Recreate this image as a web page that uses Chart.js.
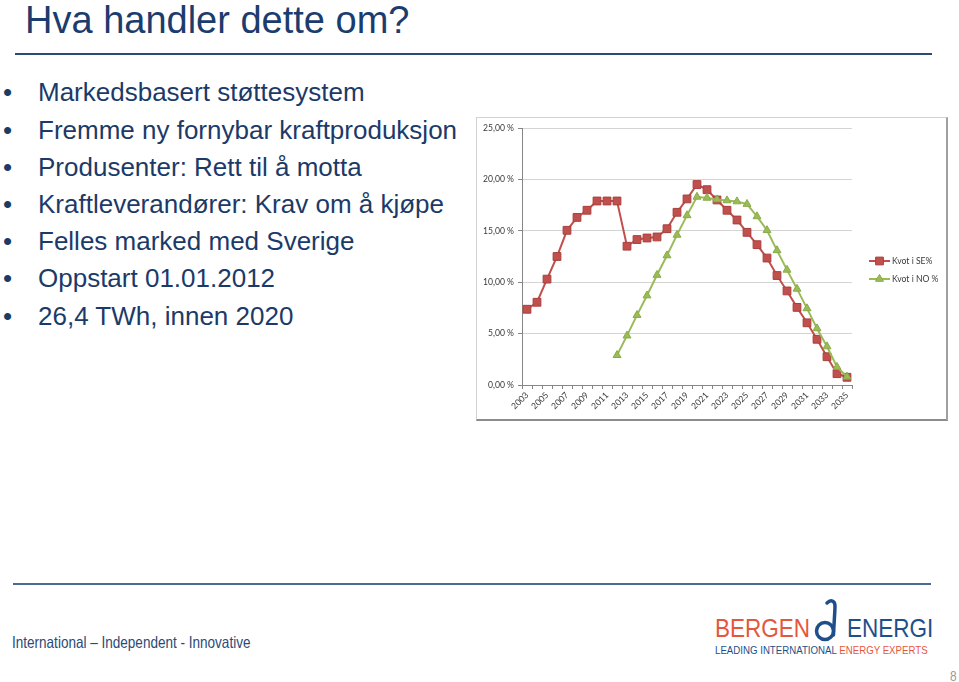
<!DOCTYPE html>
<html>
<head>
<meta charset="utf-8">
<script src="https://cdn.jsdelivr.net/npm/chart.js@4.4.1/dist/chart.umd.min.js"></script>
<style>
  html, body { margin: 0; padding: 0; background: #fff; }
  body { width: 959px; height: 682px; position: relative; overflow: hidden; font-family: "Liberation Sans", Arial, sans-serif; }
  .abs { position: absolute; white-space: nowrap; }
  #title { left: 25px; top: 1px; font-size: 38px; line-height: 38px; color: #1b3c6e; }
  .rule { position: absolute; background: #2c4a78; height: 2px; }
  #bullets { left: 0; top: 74.4px; font-size: 26px; line-height: 37.2px; color: #1c3a68; }
  #bullets div { position: relative; padding-left: 38px; }
  #bullets div::before { content: "\2022"; position: absolute; left: 3px; }
  #frame { left: 476px; top: 117px; width: 469px; height: 301px; border: 1px solid #d2d2d2; border-right: 2px solid #a0a0a0; border-bottom: 2px solid #8c8c8c; background: #fff; }
  #footer { left: 12px; top: 634px; font-size: 16.5px; line-height: 16.5px; color: #2b4a78; transform: scaleX(0.82); transform-origin: 0 0; }
  #page { left: 950px; top: 669px; font-size: 14px; line-height: 14px; color: #9a9a9a; transform: scaleX(0.85); transform-origin: 0 0; }
  .logo { font-size: 25px; line-height: 25px; top: 616px; transform: scaleX(0.9); transform-origin: 0 0; }
  #sub { left: 715px; top: 644.7px; font-size: 11px; line-height: 11px; color: #1f4f8a; transform: scaleX(0.88); transform-origin: 0 0; }
</style>
</head>
<body>
<div id="title" class="abs">Hva handler dette om?</div>
<div class="rule" style="left:15px; top:53px; width:917px;"></div>

<div id="bullets" class="abs">
  <div>Markedsbasert støttesystem</div>
  <div>Fremme ny fornybar kraftproduksjon</div>
  <div>Produsenter: Rett til å motta</div>
  <div>Kraftleverandører: Krav om å kjøpe</div>
  <div>Felles marked med Sverige</div>
  <div>Oppstart 01.01.2012</div>
  <div>26,4 TWh, innen 2020</div>
</div>

<div id="frame" class="abs">
  <canvas id="kvotChart" width="469" height="301"></canvas>
</div>

<div class="rule" style="left:13px; top:583px; width:918px; background:#4a6a95;"></div>
<div id="footer" class="abs">International – Independent - Innovative</div>

<div class="abs logo" style="left:715px; color:#e4573d;">BERGEN</div>
<svg class="abs" style="left:805px; top:595px;" width="44" height="48" viewBox="0 0 44 48">
  <circle cx="20" cy="36" r="8.5" fill="none" stroke="#1f4f8a" stroke-width="3.5"/>
  <path d="M 28.5 40 C 29 28, 30 16, 30 11 C 30 6, 26 4, 22 8" fill="none" stroke="#1f4f8a" stroke-width="3.5" stroke-linecap="round"/>
</svg>
<div class="abs logo" style="left:847px; color:#1f4f8a;">ENERGI</div>
<div id="sub" class="abs">LEADING INTERNATIONAL <span style="color:#e4573d;">ENERGY EXPERTS</span></div>

<div id="page" class="abs">8</div>

<script>
// Years on the category axis (every other one is labelled)
const years = ["2003", "2004", "2005", "2006", "2007", "2008", "2009", "2010", "2011", "2012",
               "2013", "2014", "2015", "2016", "2017", "2018", "2019", "2020", "2021", "2022",
               "2023", "2024", "2025", "2026", "2027", "2028", "2029", "2030", "2031", "2032",
               "2033", "2034", "2035"];

// Kvot i SE%
const kvotSE = [7.37, 8.05, 10.3, 12.5, 15.05, 16.3, 17.0, 17.9, 17.9, 17.9,
                13.5, 14.15, 14.3, 14.4, 15.2, 16.8, 18.1, 19.5, 19.0, 18.0,
                17.0, 16.05, 14.85, 13.65, 12.35, 10.65, 9.15, 7.55, 6.05, 4.45,
                2.75, 1.1, 0.75];

// Kvot i NO % - starts in 2012
const kvotNO = [null, null, null, null, null, null, null, null, null, 2.9,
                4.8, 6.8, 8.7, 10.7, 12.6, 14.6, 16.5, 18.3, 18.2, 18.05,
                17.95, 17.85, 17.6, 16.4, 15.05, 13.1, 11.2, 9.35, 7.45, 5.5,
                3.75, 1.75, 0.8];

const yMin = 0, yMax = 25, yStep = 5;

const tickFont = { family: 'Lato, "Liberation Sans", sans-serif', size: 8.6 };

// Excel-style legend on the right: line with marker, then the label
const sideLegend = {
    id: 'sideLegend',
    afterDraw(chart, args, opts) {
        const ctx = chart.ctx;
        ctx.save();
        chart.data.datasets.forEach((ds, i) => {
            const y = opts.top + i * opts.gap;
            const x0 = opts.left, x1 = opts.left + opts.lineLength;
            ctx.strokeStyle = ds.borderColor;
            ctx.lineWidth = ds.borderWidth;
            ctx.beginPath();
            ctx.moveTo(x0, y);
            ctx.lineTo(x1, y);
            ctx.stroke();

            const cx = (x0 + x1) / 2, r = ds.pointRadius;
            ctx.fillStyle = ds.pointBackgroundColor;
            ctx.strokeStyle = ds.pointBorderColor;
            ctx.lineWidth = 1;
            ctx.beginPath();
            if (ds.pointStyle === 'rect') {
                const s = Math.SQRT1_2 * r;
                ctx.rect(cx - s, y - s, 2 * s, 2 * s);
            } else {
                let rad = 0;
                ctx.moveTo(cx + Math.sin(rad) * r, y - Math.cos(rad) * r);
                rad += 2 * Math.PI / 3;
                ctx.lineTo(cx + Math.sin(rad) * r, y - Math.cos(rad) * r);
                rad += 2 * Math.PI / 3;
                ctx.lineTo(cx + Math.sin(rad) * r, y - Math.cos(rad) * r);
                ctx.closePath();
            }
            ctx.fill();
            ctx.stroke();

            ctx.fillStyle = '#3a3a3a';
            ctx.font = tickFont.size + 'px ' + tickFont.family;
            ctx.textBaseline = 'middle';
            ctx.textAlign = 'left';
            ctx.fillText(ds.label, x1 + 2, y);
        });
        ctx.restore();
    }
};

const ctx = document.getElementById('kvotChart').getContext('2d');

new Chart(ctx, {
    type: 'line',
    data: {
        labels: years,
        datasets: [
            {
                label: 'Kvot i SE%',
                data: kvotSE,
                borderColor: '#c0504d',
                borderWidth: 2,
                pointStyle: 'rect',
                pointRadius: 5.5,
                pointBackgroundColor: '#c0504d',
                pointBorderColor: '#a93f3c',
                pointBorderWidth: 1,
                tension: 0,
                order: 2
            },
            {
                label: 'Kvot i NO %',
                data: kvotNO,
                borderColor: '#9bbb59',
                borderWidth: 2,
                pointStyle: 'triangle',
                pointRadius: 4.6,
                pointBackgroundColor: '#9bbb59',
                pointBorderColor: '#8aab48',
                pointBorderWidth: 1,
                tension: 0,
                order: 1
            }
        ]
    },
    options: {
        responsive: false,
        animation: false,
        layout: { padding: { top: 10, right: 94, left: 0, bottom: 0 } },
        plugins: {
            legend: { display: false },
            tooltip: { enabled: false },
            sideLegend: { left: 392, top: 143, gap: 18, lineLength: 21 }
        },
        scales: {
            x: {
                offset: true,
                grid: { offset: true, drawOnChartArea: false, tickLength: 4, tickColor: '#868686' },
                border: { color: '#868686' },
                ticks: {
                    autoSkip: false,
                    maxRotation: 45,
                    minRotation: 45,
                    padding: 1,
                    font: tickFont,
                    color: '#3a3a3a',
                    callback: (v, i) => (i % 2 === 0 ? years[i] : '')
                },
                afterFit: s => { s.height = 34; }
            },
            y: {
                min: yMin,
                max: yMax,
                grid: { color: '#d4d4d4', tickLength: 4, tickColor: '#868686' },
                border: { color: '#868686' },
                ticks: {
                    stepSize: yStep,
                    padding: 4,
                    font: tickFont,
                    color: '#3a3a3a',
                    callback: v => v.toFixed(2).replace('.', ',') + ' %'
                },
                afterFit: s => { s.width = 45; }
            }
        }
    },
    plugins: [sideLegend]
});
</script>
</body>
</html>
